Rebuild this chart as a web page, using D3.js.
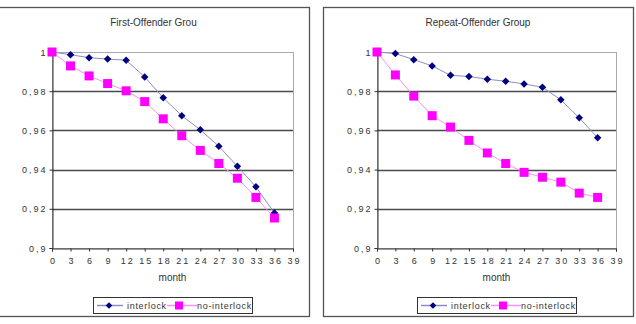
<!DOCTYPE html>
<html>
<head>
<meta charset="utf-8">
<script src="https://cdn.jsdelivr.net/npm/d3@7"></script>
<style>
  body { margin: 0; background: #fff; }
  svg { display: block; font-family: 'Liberation Sans', Arial, sans-serif; }
</style>
</head>
<body>
<svg id="chart" width="636" height="324"></svg>
<script>
// data
const months = [0, 3, 6, 9, 12, 15, 18, 21, 24, 27, 30, 33, 36]
const xTicks = [0, 3, 6, 9, 12, 15, 18, 21, 24, 27, 30, 33, 36, 39]
const yTicks = [0.9, 0.92, 0.94, 0.96, 0.98, 1]
const seriesNames = ['interlock', 'no-interlock']

const firstInterlock = [1, 0.9986, 0.9971, 0.9964, 0.9958, 0.9873, 0.9766, 0.9675, 0.9603, 0.9519, 0.9417, 0.9312, 0.9178]
const firstNoInterlock = [1, 0.9929, 0.9878, 0.9839, 0.9802, 0.9747, 0.9659, 0.9573, 0.9498, 0.9431, 0.9356, 0.9258, 0.9153]
const repeatInterlock = [1, 0.9992, 0.9961, 0.9929, 0.9881, 0.9875, 0.9861, 0.9851, 0.9837, 0.982, 0.9756, 0.9664, 0.9563]
const repeatNoInterlock = [1, 0.9883, 0.9775, 0.9675, 0.9617, 0.9549, 0.9485, 0.9431, 0.9386, 0.9361, 0.9336, 0.928, 0.9258]

const style = {
    line: ['#8c8cc4', '#ff8cff'],
    marker: ['#000080', '#ff00ff'],
    labelSpacing: 2
}

const svg = d3.select('#chart')

const panels = [
    { title: 'First-Offender  Grou', box: [-2, 7, 309, 316], plot: [52, 52, 293, 248], data: [firstInterlock, firstNoInterlock] },
    { title: 'Repeat-Offender Group', box: [323, 7, 633, 316], plot: [377, 52, 616, 248], data: [repeatInterlock, repeatNoInterlock] }
]

const fmt = (d) => d === 1 ? '1' : String(d).replace('.', ',')

panels.forEach(function (p) {
    const g = svg.append('g')
    const [bx0, by0, bx1, by1] = p.box
    const [px0, py0, px1, py1] = p.plot

    // 外框
    g.append('rect')
        .attr('x', bx0 + 0.5).attr('y', by0 + 0.5)
        .attr('width', bx1 - bx0).attr('height', by1 - by0)
        .attr('fill', 'none').attr('stroke', '#555').attr('stroke-width', 1.3)

    const x = d3.scaleLinear().domain([0, 39]).range([px0, px1])
    const y = d3.scaleLinear().domain([0.9, 1]).range([py1, py0])

    // 網格
    g.append('rect')
        .attr('x', px0 + 0.5).attr('y', py0 + 0.5)
        .attr('width', px1 - px0).attr('height', py1 - py0)
        .attr('fill', 'none').attr('stroke', '#aaa')
    g.selectAll('.grid').data(yTicks.slice(1, -1)).enter().append('line')
        .attr('x1', px0).attr('x2', px1)
        .attr('y1', (d) => Math.round(y(d)) + 0.5).attr('y2', (d) => Math.round(y(d)) + 0.5)
        .attr('stroke', '#4a4a4a').attr('stroke-width', 1.3)

    // 坐標軸
    const xAxis = g.append('g').attr('transform', `translate(0, ${py1 + 0.5})`)
        .call(d3.axisBottom(x).tickValues(xTicks).tickSize(3).tickPadding(6).tickFormat((d) => d))
    const yAxis = g.append('g').attr('transform', `translate(${px0 + 0.5}, 0)`)
        .call(d3.axisLeft(y).tickValues(yTicks).tickSize(3).tickPadding(2).tickFormat(fmt))
    ;[xAxis, yAxis].forEach(function (a) {
        a.select('.domain').attr('stroke', '#333')
        a.selectAll('.tick line').attr('stroke', '#333')
        a.selectAll('text')
            .attr('font-family', 'Liberation Sans, Arial, sans-serif')
            .attr('font-size', '9px')
            .attr('fill', '#333')
            .style('letter-spacing', style.labelSpacing + 'px')
    })
    xAxis.selectAll('text').attr('dx', style.labelSpacing / 2)
    yAxis.selectAll('text').attr('dy', '0.35em')

    // 標題
    g.append('text')
        .text(p.title)
        .attr('x', (bx0 + bx1) / 2).attr('y', 26)
        .attr('text-anchor', 'middle')
        .attr('font-size', '10px').attr('fill', '#333')
    g.append('text')
        .text('month')
        .attr('x', (px0 + px1) / 2).attr('y', 281)
        .attr('text-anchor', 'middle')
        .attr('font-size', '10px').attr('fill', '#333')

    // 曲線和標記
    const line = d3.line().x((d, i) => x(months[i])).y((d) => y(d))
    p.data.forEach(function (vals, k) {
        g.append('path').datum(vals)
            .attr('d', line)
            .attr('fill', 'none').attr('stroke', style.line[k]).attr('stroke-width', 1)
    })
    p.data.forEach(function (vals, k) {
        const pts = g.append('g').selectAll('path').data(vals).enter().append('path')
            .attr('transform', (d, i) => `translate(${x(months[i])}, ${y(d)})`)
            .attr('fill', style.marker[k])
        if (k === 0) pts.attr('d', d3.symbol(d3.symbolDiamond2, 36))
        else pts.attr('d', 'M-4.5,-4.5H4.5V4.5H-4.5Z')
    })

    // 圖例
    const lx = (px0 + px1) / 2 - 79.5
    const legend = g.append('g').attr('transform', `translate(${lx}, 297)`)
    legend.append('rect').attr('x', 0.5).attr('y', 0.5).attr('width', 159).attr('height', 16)
        .attr('fill', '#fff').attr('stroke', '#333')
    const items = [
        { x0: 4, x1: 30, mx: 16, tx: 34 },
        { x0: 74, x1: 104, mx: 86, tx: 104 }
    ]
    items.forEach(function (it, k) {
        legend.append('line').attr('x1', it.x0).attr('x2', it.x1).attr('y1', 8.5).attr('y2', 8.5)
            .attr('stroke', style.line[k]).attr('stroke-width', 1.5)
        const m = legend.append('path').attr('transform', `translate(${it.mx}, 8.5)`).attr('fill', style.marker[k])
        if (k === 0) m.attr('d', d3.symbol(d3.symbolDiamond2, 28))
        else m.attr('d', 'M-4,-4H4V4H-4Z')
    })
    legend.append('clipPath').attr('id', 'clip' + px0)
        .append('rect').attr('width', 159).attr('height', 17)
    legend.append('g').attr('clip-path', `url(#clip${px0})`)
        .selectAll('text').data(seriesNames).enter().append('text')
        .text((d) => d)
        .attr('x', (d, i) => items[i].tx).attr('y', 12)
        .attr('font-size', '9px').attr('fill', '#333')
        .style('letter-spacing', '0.7px')
})
</script>
</body>
</html>
